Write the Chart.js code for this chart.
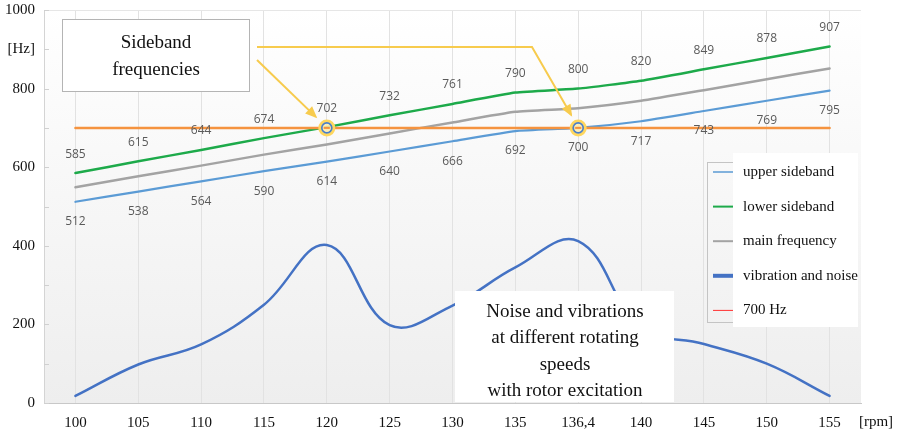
<!DOCTYPE html>
<html>
<head>
<meta charset="utf-8">
<script src="https://cdn.jsdelivr.net/npm/chart.js@4/dist/chart.umd.min.js"></script>
<style>
  html, body { margin: 0; padding: 0; background: #ffffff; }
  #wrap { width: 901px; height: 434px; position: relative; }
</style>
</head>
<body>
<div id="wrap"><canvas id="chart" width="901" height="434"></canvas></div>
<script>
// Rotating speed categories [rpm]
const speeds = ['100', '105', '110', '115', '120', '125', '130', '135', '136,4', '140', '145', '150', '155'];

// Frequencies [Hz]
const upperSideband = [512, 538, 564, 590, 614, 640, 666, 692, 700, 717, 743, 769, 795];
const lowerSideband = [585, 615, 644, 674, 702, 732, 761, 790, 800, 820, 849, 878, 907];
const mainFrequency = [549, 577, 604, 632, 658, 686, 714, 741, 750, 769, 796, 824, 851];
const referenceLine = [700, 700, 700, 700, 700, 700, 700, 700, 700, 700, 700, 700, 700];

// Vibration and noise level (same axis scale)
const vibrationNoise = [18, 98, 149, 250, 402, 198, 248, 345, 412, 192, 150, 100, 18];

// Speeds where a sideband crosses 700 Hz
const crossingSpeeds = ['120', '136,4'];

// Y axis tick labels
const yTickText = { 0: '0', 200: '200', 400: '400', 600: '600', 800: '800', 900: '[Hz]', 1000: '1000' };

const SERIF = '"Liberation Serif", "Times New Roman", serif';
const LABEL_FONT = '12px "Open Sans", "Liberation Sans", sans-serif';

const C = {
  upper: '#5B9BD5',
  lower: '#1DAA4A',
  main: '#A3A3A3',
  vib: '#4472C4',
  ref: '#F5933F',
  refLegend: '#FF3030',
  arrow: '#F7CB4D'
};

// Plot background: soft vertical gradient
const backgroundPlugin = {
  id: 'plotBackground',
  beforeDraw(chart) {
    const { ctx, chartArea: a } = chart;
    const g = ctx.createLinearGradient(0, a.top, 0, a.bottom);
    g.addColorStop(0, '#ffffff');
    g.addColorStop(1, '#eeeeee');
    ctx.save();
    ctx.fillStyle = g;
    ctx.fillRect(a.left, a.top, a.right - a.left, a.bottom - a.top);
    ctx.restore();
  },
  afterDraw(chart) {
    // short inward tick marks on the value axis
    const { ctx, chartArea: a } = chart;
    const y = chart.scales.y;
    ctx.save();
    ctx.strokeStyle = '#d0d0d0';
    ctx.lineWidth = 1;
    for (let v = 0; v <= 1000; v += 100) {
      const py = Math.round(y.getPixelForValue(v)) + 0.5;
      ctx.beginPath();
      ctx.moveTo(a.left, py);
      ctx.lineTo(a.left + 5, py);
      ctx.stroke();
    }
    ctx.restore();
  }
};

// Value labels above the lower sideband and below the upper sideband
const valueLabelPlugin = {
  id: 'valueLabels',
  afterDatasetsDraw(chart) {
    const { ctx } = chart;
    ctx.save();
    ctx.font = LABEL_FONT;
    ctx.fillStyle = '#5a5a5a';
    ctx.textAlign = 'center';
    ctx.textBaseline = 'middle';
    chart.data.datasets.forEach((ds, i) => {
      if (!ds.labelOffset) return;
      const meta = chart.getDatasetMeta(i);
      meta.data.forEach((pt, j) => {
        ctx.fillText(String(ds.data[j]), pt.x, pt.y + ds.labelOffset);
      });
    });
    ctx.restore();
  }
};

function arrow(ctx, pts, color) {
  ctx.save();
  ctx.strokeStyle = color;
  ctx.fillStyle = color;
  ctx.lineWidth = 2;
  ctx.beginPath();
  ctx.moveTo(pts[0][0], pts[0][1]);
  for (let i = 1; i < pts.length; i++) ctx.lineTo(pts[i][0], pts[i][1]);
  ctx.stroke();
  const [x1, y1] = pts[pts.length - 2];
  const [x2, y2] = pts[pts.length - 1];
  const ang = Math.atan2(y2 - y1, x2 - x1);
  const L = 10, W = 5;
  ctx.beginPath();
  ctx.moveTo(x2 + Math.cos(ang) * 2, y2 + Math.sin(ang) * 2);
  ctx.lineTo(x2 - L * Math.cos(ang) + W * Math.sin(ang), y2 - L * Math.sin(ang) - W * Math.cos(ang));
  ctx.lineTo(x2 - L * Math.cos(ang) - W * Math.sin(ang), y2 - L * Math.sin(ang) + W * Math.cos(ang));
  ctx.closePath();
  ctx.fill();
  ctx.restore();
}

// Annotation boxes, crossing markers, arrows, custom legend and axis unit
const annotationPlugin = {
  id: 'annotations',
  afterDraw(chart) {
    const { ctx } = chart;
    const xs = chart.scales.x, ys = chart.scales.y;
    const marks = crossingSpeeds.map(s => ({
      x: xs.getPixelForValue(speeds.indexOf(s)),
      y: ys.getPixelForValue(700)
    }));

    // crossing markers
    marks.forEach(m => {
      ctx.save();
      ctx.beginPath();
      ctx.arc(m.x, m.y, 7, 0, Math.PI * 2);
      ctx.strokeStyle = '#FFD75E';
      ctx.lineWidth = 3;
      ctx.stroke();
      ctx.beginPath();
      ctx.arc(m.x, m.y, 5, 0, Math.PI * 2);
      ctx.fillStyle = 'rgba(255, 236, 170, 0.85)';
      ctx.fill();
      ctx.strokeStyle = '#4A7FC8';
      ctx.lineWidth = 1.6;
      ctx.stroke();
      ctx.beginPath();
      ctx.moveTo(m.x - 3, m.y);
      ctx.lineTo(m.x + 3, m.y);
      ctx.strokeStyle = C.ref;
      ctx.lineWidth = 2;
      ctx.stroke();
      ctx.restore();
    });

    // "Sideband frequencies" box
    ctx.save();
    ctx.fillStyle = '#ffffff';
    ctx.fillRect(62, 19, 187, 72);
    ctx.strokeStyle = '#b4b4b4';
    ctx.lineWidth = 1;
    ctx.strokeRect(62.5, 19.5, 187, 72);
    ctx.fillStyle = '#111111';
    ctx.font = '19px ' + SERIF;
    ctx.textAlign = 'center';
    ctx.textBaseline = 'middle';
    ctx.fillText('Sideband', 156, 43);
    ctx.fillText('frequencies', 156, 70);
    ctx.restore();

    // arrows to the crossing markers
    const m1 = marks[0], m2 = marks[1];
    arrow(ctx, [[257, 60], [m1.x - 11, m1.y - 11]], C.arrow);
    arrow(ctx, [[257, 47], [532, 47], [m2.x - 7, m2.y - 13]], C.arrow);

    // "Noise and vibrations" box
    ctx.save();
    ctx.fillStyle = '#ffffff';
    ctx.fillRect(455, 291, 219, 111);
    ctx.fillStyle = '#111111';
    ctx.font = '19px ' + SERIF;
    ctx.textAlign = 'center';
    ctx.textBaseline = 'middle';
    const lines = ['Noise and vibrations', 'at different rotating', 'speeds', 'with rotor excitation'];
    lines.forEach((t, i) => ctx.fillText(t, 565, 312 + i * 26.3));
    ctx.restore();

    // legend
    ctx.save();
    ctx.strokeStyle = '#c4c4c4';
    ctx.lineWidth = 1;
    ctx.strokeRect(707.5, 162.5, 140, 160);
    ctx.fillStyle = '#ffffff';
    ctx.fillRect(733, 153, 125, 174);
    const entries = [
      { text: 'upper sideband', color: C.upper, w: 1.5 },
      { text: 'lower sideband', color: C.lower, w: 2 },
      { text: 'main frequency', color: C.main, w: 2 },
      { text: 'vibration and noise', color: C.vib, w: 4 },
      { text: '700 Hz', color: C.refLegend, w: 1 }
    ];
    ctx.font = '15px ' + SERIF;
    ctx.textBaseline = 'middle';
    ctx.textAlign = 'left';
    entries.forEach((e, i) => {
      const y = 172 + i * 34.6;
      ctx.beginPath();
      ctx.moveTo(713, y);
      ctx.lineTo(733, y);
      ctx.strokeStyle = e.color;
      ctx.lineWidth = e.w;
      ctx.stroke();
      ctx.fillStyle = '#111111';
      ctx.fillText(e.text, 743, y);
    });
    ctx.restore();

    // x axis unit
    ctx.save();
    ctx.font = '15px ' + SERIF;
    ctx.fillStyle = '#111111';
    ctx.textAlign = 'center';
    ctx.textBaseline = 'middle';
    ctx.fillText('[rpm]', 876, 422);
    ctx.restore();
  }
};

new Chart(document.getElementById('chart'), {
  type: 'line',
  data: {
    labels: speeds,
    datasets: [
      { label: '700 Hz', data: referenceLine, borderColor: C.ref, borderWidth: 2.5, order: 0 },
      { label: 'lower sideband', data: lowerSideband, borderColor: C.lower, borderWidth: 2.5, tension: 0.15, labelOffset: -19, order: 1 },
      { label: 'upper sideband', data: upperSideband, borderColor: C.upper, borderWidth: 2.2, tension: 0.15, labelOffset: 20, order: 2 },
      { label: 'main frequency', data: mainFrequency, borderColor: C.main, borderWidth: 2.5, tension: 0.15, order: 3 },
      { label: 'vibration and noise', data: vibrationNoise, borderColor: C.vib, borderWidth: 2.5, tension: 0.4, order: 4 }
    ]
  },
  options: {
    responsive: false,
    animation: false,
    devicePixelRatio: 1,
    layout: { padding: { top: 10, right: 40, left: 0, bottom: 0 } },
    elements: { point: { radius: 0, hoverRadius: 0 }, line: { fill: false, borderCapStyle: 'round' } },
    plugins: { legend: { display: false }, tooltip: { enabled: false } },
    scales: {
      x: {
        type: 'category',
        offset: true,
        afterFit(scale) { scale.height = 31; },
        grid: { display: true, color: '#e2e2e2', drawTicks: false, offset: false },
        border: { display: true, color: '#c8c8c8' },
        ticks: { color: '#111111', font: { family: SERIF, size: 15 }, padding: 11, autoSkip: false, maxRotation: 0 }
      },
      y: {
        min: 0,
        max: 1000,
        afterFit(scale) {
          scale.width = 44;
          scale.paddingTop = 0;
          scale.paddingBottom = 0;
        },
        grid: {
          drawTicks: false,
          color: ctx => (ctx.tick && ctx.tick.value === 1000 ? '#e6e6e6' : 'rgba(0,0,0,0)')
        },
        border: { display: true, color: '#d4d4d4' },
        ticks: {
          stepSize: 100,
          padding: 9,
          color: '#111111',
          font: { family: SERIF, size: 15 },
          callback: v => (v in yTickText ? yTickText[v] : '')
        }
      }
    }
  },
  plugins: [backgroundPlugin, valueLabelPlugin, annotationPlugin]
});
</script>
</body>
</html>
